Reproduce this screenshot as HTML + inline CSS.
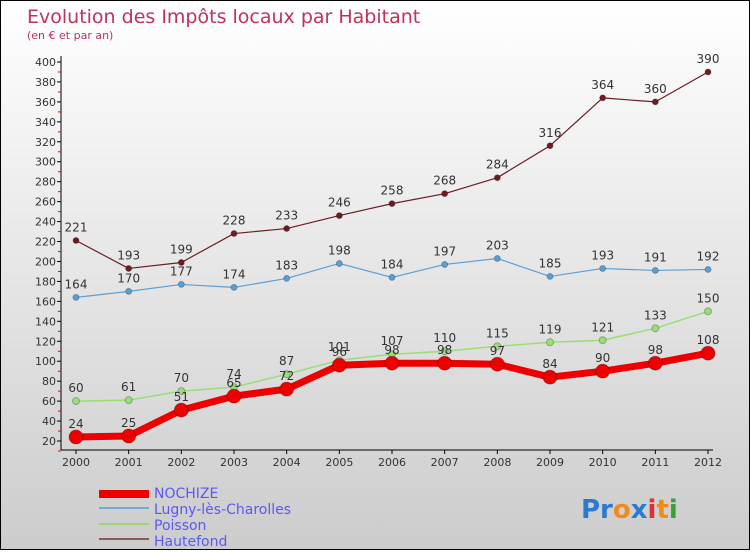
<!DOCTYPE html>
<html><head><meta charset="utf-8"><style>
html,body{margin:0;padding:0}
body{width:750px;height:550px;overflow:hidden;font-family:"DejaVu Sans","Liberation Sans",sans-serif}
#wrap{position:relative;width:748px;height:548px;border:1px solid #000;background:linear-gradient(#fff,#ccc)}
svg text{font-family:"DejaVu Sans","Liberation Sans",sans-serif}
</style></head><body>
<div id="wrap">
<svg id="chart" width="748" height="548">
<text x="26" y="22" font-size="19" fill="#c0325a">Evolution des Impôts locaux par Habitant</text>
<text x="26" y="38" font-size="11" fill="#c0325a">(en € et par an)</text>
<g id="axes"></g><g id="series"></g>
<g>
<rect x="98" y="489" width="50" height="8" fill="#e00"/>
<text x="153" y="497" font-size="14" fill="#5a5af0">NOCHIZE</text>
<rect x="98" y="506" width="50" height="2" fill="#6fa8d0"/>
<text x="153" y="513" font-size="14" fill="#5a5af0">Lugny-lès-Charolles</text>
<rect x="98" y="522" width="50" height="2" fill="#99d47a"/>
<text x="153" y="529" font-size="14" fill="#5a5af0">Poisson</text>
<rect x="98" y="537" width="50" height="2" fill="#8a5a5a"/>
<text x="153" y="545" font-size="14" fill="#5a5af0">Hautefond</text>
</g>
<text x="580" y="517" font-size="26" font-weight="bold"><tspan fill="#2a7bd0">Pr</tspan><tspan fill="#f08a1a">o</tspan><tspan fill="#2a7bd0">x</tspan><tspan fill="#e03030">i</tspan><tspan fill="#f08a1a">t</tspan><tspan fill="#3aa03a">i</tspan></text>
</svg></div>
<script>
const years=[2000,2001,2002,2003,2004,2005,2006,2007,2008,2009,2010,2011,2012];
const nochize=[24,25,51,65,72,96,98,98,97,84,90,98,108];
const poisson=[60,61,70,74,87,101,107,110,115,119,121,133,150];
const lugny=[164,170,177,174,183,198,184,197,203,185,193,191,192];
const hautefond=[221,193,199,228,233,246,258,268,284,316,364,360,390];
const yTicks=[20,40,60,80,100,120,140,160,180,200,220,240,260,280,300,320,340,360,380,400];
const NS="http://www.w3.org/2000/svg";
const xs=i=>75+i*(707-75)/12;
const ys=v=>459-(v-20)*(379/380);
function mk(tag,attrs,parent){const e=document.createElementNS(NS,tag);for(const k in attrs)e.setAttribute(k,attrs[k]);parent.appendChild(e);return e;}
const ax=document.getElementById('axes');
let e=mk('line',{x1:60,y1:55,x2:60,y2:449,stroke:'#000'},ax);


e=mk('line',{x1:60,y1:449,x2:712,y2:449,stroke:'#000'},ax);


yTicks.forEach(v=>{const y=ys(v)-19;
 mk('line',{x1:56,y1:y,x2:60,y2:y,stroke:'#000'},ax);
 mk('line',{x1:57,y1:y+10,x2:60,y2:y+10,stroke:'#e00'},ax);
 const t=mk('text',{x:55,y:y+4,'font-size':11,fill:'#333','text-anchor':'end'},ax);t.textContent=v;
 
 
});
years.forEach((yr,i)=>{const x=xs(i);
 mk('line',{x1:x,y1:449,x2:x,y2:453,stroke:'#000'},ax);
 const t=mk('text',{x:x,y:465,'font-size':11,fill:'#333','text-anchor':'middle'},ax);t.textContent=yr;
 
 
});
const sg=document.getElementById('series');
function series(vals,color,w,r,name){
 const Y=v=>ys(v)-19;
 const g=mk('g',{},sg);
 
 
 const p=mk('polyline',{points:vals.map((v,i)=>xs(i)+','+Y(v)).join(' '),fill:'none',stroke:color,'stroke-width':w,'stroke-linejoin':'round'},g);
 
 vals.forEach((v,i)=>{
  const c=mk('circle',{cx:xs(i),cy:Y(v),r:r,fill:color,stroke:'rgba(0,0,0,0.25)'},g);
  
  
  const t=mk('text',{x:xs(i),y:Y(v)-9,'font-size':12,fill:'#333','text-anchor':'middle'},g);t.textContent=v;
  
  
 });
}
series(hautefond,'#6b1d22',1.2,3,'hautefond');
series(lugny,'#5a9fd4',1.2,3,'lugny');
series(poisson,'#99dd77',1.5,3.5,'poisson');
series(nochize,'#ee0000',7,7,'nochize');
</script>
</body></html>
